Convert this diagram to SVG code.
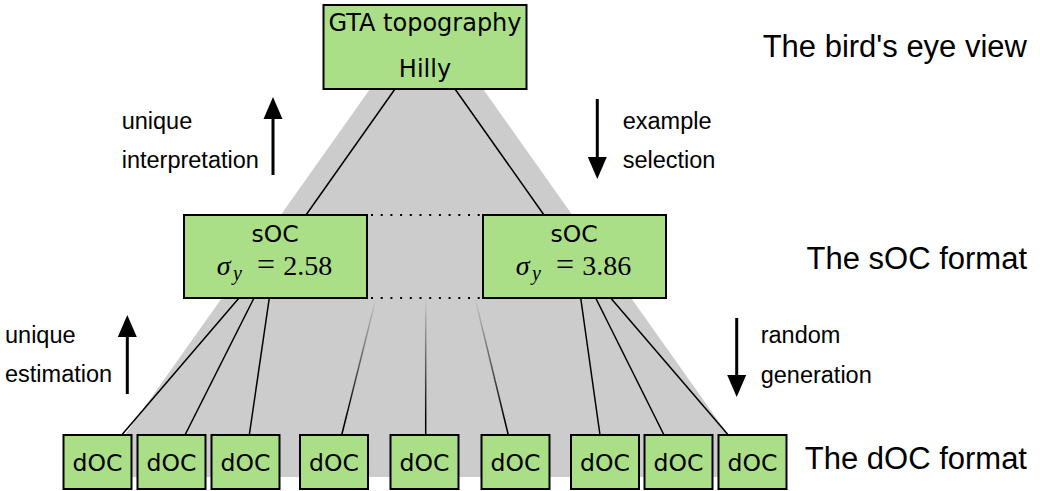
<svg xmlns="http://www.w3.org/2000/svg" width="1040" height="491" viewBox="0 0 1040 491">
<style>
.box{fill:#aade87;stroke:#000;stroke-width:2}
.bt{font-family:"DejaVu Sans",sans-serif;font-size:23.5px;fill:#000;text-anchor:middle}
.gt{font-size:24px}
.lab{font-family:"Liberation Sans",Arial,sans-serif;font-size:23.5px;fill:#000}
.big{font-family:"Liberation Sans",Arial,sans-serif;font-size:31px;fill:#000;text-anchor:end}
.m{font-family:"Liberation Serif","DejaVu Serif",serif;font-size:28px;fill:#000}
.mi{font-style:italic}
.eq{font-size:32px}
.ln{stroke:#000;stroke-width:1.5;fill:none}
.fd{stroke:url(#fade);stroke-width:1.5;fill:none}
.dot{stroke:#000;stroke-width:2;stroke-dasharray:2 7.7;fill:none}
.arr{stroke:#000;stroke-width:3;fill:none;marker-end:url(#ah)}
</style>
<defs>
<marker id="ah" markerUnits="userSpaceOnUse" markerWidth="22" markerHeight="20" refX="0" refY="10" orient="auto" viewBox="0 0 22 20">
<path d="M0,0.5 L22,10 L0,19.5 z" fill="#000"/>
</marker>
<linearGradient id="fade" gradientUnits="userSpaceOnUse" x1="0" y1="298" x2="0" y2="420">
<stop offset="0" stop-color="#000" stop-opacity="0"/>
<stop offset="1" stop-color="#000" stop-opacity="1"/>
</linearGradient>
</defs>
<rect width="1040" height="491" fill="#fff"/>
<polygon points="370,89 483,89 758,477 95,477" fill="#cccccc"/>
<g id="connectors">
<line class="ln" x1="395" y1="89" x2="306" y2="215"/>
<line class="ln" x1="455" y1="89" x2="544" y2="215"/>
<line class="dot" x1="371" y1="215" x2="481" y2="215"/>
<line class="dot" x1="371" y1="298" x2="481" y2="298"/>
<line class="ln" x1="239" y1="298" x2="121.7" y2="435"/>
<line class="ln" x1="254" y1="298" x2="185" y2="435"/>
<line class="ln" x1="269.3" y1="298" x2="249.3" y2="435"/>
<line class="fd" x1="376" y1="298" x2="341.7" y2="435"/>
<line class="fd" x1="425.7" y1="298" x2="425.7" y2="435"/>
<line class="fd" x1="475" y1="298" x2="508.3" y2="435"/>
<line class="ln" x1="580.7" y1="298" x2="600" y2="435"/>
<line class="ln" x1="595.7" y1="298" x2="664" y2="435"/>
<line class="ln" x1="610.7" y1="298" x2="728.3" y2="435"/>
</g>
<g id="arrows">
<line class="arr" x1="273" y1="175" x2="273" y2="119"/>
<line class="arr" x1="597.3" y1="99" x2="597.3" y2="157"/>
<line class="arr" x1="127.3" y1="394" x2="127.3" y2="337"/>
<line class="arr" x1="736.7" y1="318" x2="736.7" y2="375"/>
</g>
<g id="labels">
<text class="lab" x="121.7" y="129">unique</text>
<text class="lab" x="121.7" y="168">interpretation</text>
<text class="lab" x="622.7" y="128.5">example</text>
<text class="lab" x="622.7" y="167.5">selection</text>
<text class="lab" x="5" y="343">unique</text>
<text class="lab" x="5" y="382">estimation</text>
<text class="lab" x="760.7" y="343">random</text>
<text class="lab" x="760.7" y="382.5">generation</text>
<text class="big" x="1027" y="57">The bird's eye view</text>
<text class="big" x="1027" y="269">The sOC format</text>
<text class="big" x="1027" y="469">The dOC format</text>
</g>
<g id="gta">
<rect class="box" x="323.5" y="5" width="203" height="84"/>
<text class="bt gt" x="425" y="30.5">GTA topography</text>
<text class="bt gt" x="425" y="77">Hilly</text>
</g>
<g id="soc1">
<rect class="box" x="184" y="215" width="183" height="83"/>
<text class="bt" x="275" y="242">sOC</text>
<text class="m" y="275"><tspan class="mi" x="216.7">σ</tspan><tspan class="mi" x="233" dy="5" font-size="20">y</tspan><tspan class="eq" x="257" dy="-5">=</tspan><tspan x="283.3">2.58</tspan></text>
</g>
<g id="soc2">
<rect class="box" x="483" y="215" width="183" height="83"/>
<text class="bt" x="574" y="242">sOC</text>
<text class="m" y="275"><tspan class="mi" x="515.7">σ</tspan><tspan class="mi" x="532" dy="5" font-size="20">y</tspan><tspan class="eq" x="556" dy="-5">=</tspan><tspan x="582.3">3.86</tspan></text>
</g>
<g id="doc1"><rect class="box" x="63.5" y="435" width="68" height="54"/><text class="bt" x="97.5" y="471">dOC</text></g>
<g id="doc2"><rect class="box" x="137.5" y="435" width="68" height="54"/><text class="bt" x="171.5" y="471">dOC</text></g>
<g id="doc3"><rect class="box" x="211.5" y="435" width="68" height="54"/><text class="bt" x="245.5" y="471">dOC</text></g>
<g id="doc4"><rect class="box" x="300" y="435" width="68" height="54"/><text class="bt" x="334" y="471">dOC</text></g>
<g id="doc5"><rect class="box" x="390.5" y="435" width="68" height="54"/><text class="bt" x="424.5" y="471">dOC</text></g>
<g id="doc6"><rect class="box" x="481.5" y="435" width="68" height="54"/><text class="bt" x="515.5" y="471">dOC</text></g>
<g id="doc7"><rect class="box" x="571" y="435" width="68" height="54"/><text class="bt" x="605" y="471">dOC</text></g>
<g id="doc8"><rect class="box" x="644.5" y="435" width="68" height="54"/><text class="bt" x="678.5" y="471">dOC</text></g>
<g id="doc9"><rect class="box" x="718.5" y="435" width="68" height="54"/><text class="bt" x="752.5" y="471">dOC</text></g>
</svg>
